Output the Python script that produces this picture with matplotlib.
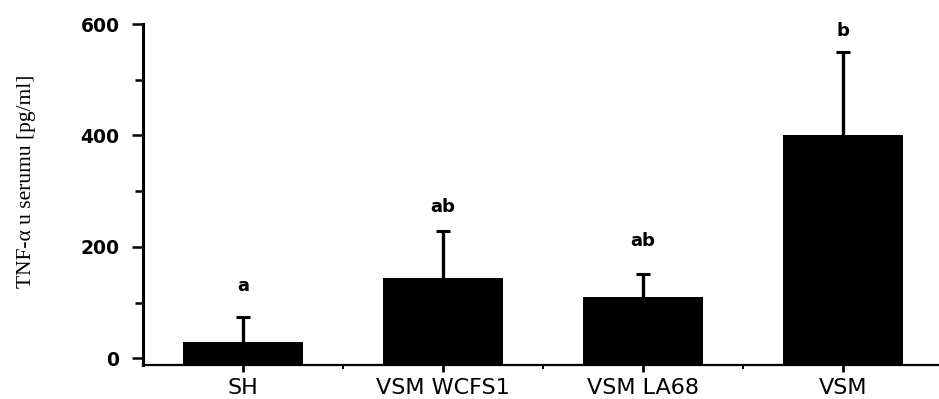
import matplotlib
matplotlib.use("Agg")
import matplotlib.pyplot as plt
import numpy as np
from matplotlib.ticker import MultipleLocator, FixedLocator

# TNF-alpha serum levels per group
groups = ["SH", "VSM WCFS1", "VSM LA68", "VSM"]
means = [30, 145, 110, 400]
sd_upper = [45, 83, 42, 150]
letters = ["a", "ab", "ab", "b"]
letter_y = [129, 271, 210, 588]
y_ticks = [0, 200, 400, 600]

y_floor = -12  # axis baseline sits slightly below zero

fig = plt.figure(figsize=(9.39, 3.99), dpi=100)
ax = fig.add_axes([0.1523, 0.0852, 0.8477, 0.8546])

x = np.arange(len(groups))
means_arr = np.array(means, dtype=float)
ax.bar(x, means_arr - y_floor, bottom=y_floor, width=0.6, color="black", zorder=2)
eb = ax.errorbar(x, means_arr, yerr=[np.zeros(len(means)), sd_upper], fmt="none",
                 ecolor="black", elinewidth=2.4, capsize=5, capthick=2.2, zorder=3)
# keep only the upper caps
for cap in eb.lines[1]:
    if np.allclose(cap.get_ydata(), means_arr):
        cap.set_visible(False)

for xi, lab, ly in zip(x, letters, letter_y):
    ax.text(xi, ly, lab, ha="center", va="center", fontsize=13,
            fontweight="bold", family="DejaVu Sans")

ax.set_xlim(-0.5, 3.48)
ax.set_ylim(y_floor, 600)

for side in ("top", "right"):
    ax.spines[side].set_visible(False)
ax.spines["left"].set_linewidth(2.2)
ax.spines["bottom"].set_linewidth(1.6)

ax.set_yticks(y_ticks)
ax.yaxis.set_minor_locator(MultipleLocator(100))
ax.tick_params(axis="y", which="major", direction="out", length=8, width=1.8,
               pad=9, labelsize=13.5)
ax.tick_params(axis="y", which="minor", direction="out", length=6, width=1.8)
for lbl in ax.get_yticklabels():
    lbl.set_fontweight("bold")
    lbl.set_family("DejaVu Sans")

ax.set_xticks(x)
ax.set_xticklabels(groups, fontsize=16, family="DejaVu Sans")
ax.xaxis.set_minor_locator(FixedLocator([0.5, 1.5, 2.5]))
ax.tick_params(axis="x", which="major", direction="out", length=5, width=2, pad=4)
ax.tick_params(axis="x", which="minor", direction="out", length=3, width=1.5)

ax.set_ylabel("TNF-α u serumu [pg/ml]", family="Liberation Serif",
              fontsize=15.5)
ax.yaxis.set_label_coords(-0.135, 0.54)

fig.savefig("out.png", dpi=100)
